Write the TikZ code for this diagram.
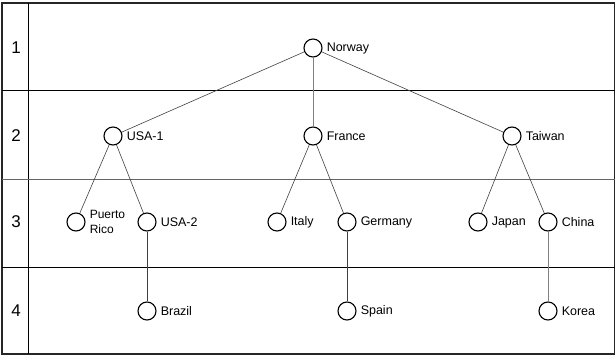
\documentclass[tikz,border=0pt]{standalone}
\usepackage{fontspec}
\setmainfont{Liberation Sans}
\begin{document}
\begin{tikzpicture}[x=1pt,y=-1pt,
  vtx/.style={circle,draw=black,line width=1.1pt,minimum size=18pt,inner sep=0pt},
  lab/.style={anchor=west,inner sep=0pt,font=\fontsize{12.5}{14}\selectfont},
  rownum/.style={font=\fontsize{17}{19}\selectfont},
  edge/.style={draw=black!75,line width=0.6pt},
  rule/.style={draw=black,line width=0.9pt}]
\useasboundingbox (0,0) rectangle (616,356);
% frame and rows
\draw[line width=1.4pt,draw=black!85] (2,3) rectangle (614.5,354);
\draw[rule] (28,3) -- (28,354);
\draw[rule] (2,90.5) -- (614.5,90.5);
\draw[rule,draw=black!60] (2,179) -- (614.5,179);
\draw[rule] (2,267) -- (614.5,267);
\node[rownum] (r1) at (16,48) {1};
\node[rownum] (r2) at (16,136) {2};
\node[rownum] (r3) at (16,222) {3};
\node[rownum] (r4) at (16,311) {4};
% nodes
\node[vtx] (nor) at (313,48) {};
\node[vtx] (usa1) at (113,136) {};
\node[vtx] (fra) at (313,136) {};
\node[vtx] (tai) at (512,136) {};
\node[vtx] (pr) at (76,222) {};
\node[vtx] (usa2) at (147,222) {};
\node[vtx] (ita) at (277,222) {};
\node[vtx] (ger) at (347,222) {};
\node[vtx] (jap) at (478,222) {};
\node[vtx] (chi) at (548,222) {};
\node[vtx] (bra) at (147,311) {};
\node[vtx] (spa) at (347,311) {};
\node[vtx] (kor) at (548,311) {};
% labels
\node[lab] (lnor) at ([xshift=4pt]nor.east) {Norway};
\node[lab] (lusa1) at ([xshift=4pt]usa1.east) {USA-1};
\node[lab] (lfra) at ([xshift=4pt]fra.east) {France};
\node[lab] (ltai) at ([xshift=4pt]tai.east) {Taiwan};
\node[lab,align=left,font=\fontsize{12}{15}\selectfont] (lpr) at ([xshift=4pt]pr.east) {Puerto\\Rico};
\node[lab] (lusa2) at ([xshift=4pt]usa2.east) {USA-2};
\node[lab] (lita) at ([xshift=4pt]ita.east) {Italy};
\node[lab] (lger) at ([xshift=4pt]ger.east) {Germany};
\node[lab] (ljap) at ([xshift=4pt]jap.east) {Japan};
\node[lab] (lchi) at ([xshift=4pt]chi.east) {China};
\node[lab] (lbra) at ([xshift=4pt]bra.east) {Brazil};
\node[lab] (lspa) at ([xshift=4pt]spa.east) {Spain};
\node[lab] (lkor) at ([xshift=4pt]kor.east) {Korea};
% edges
\draw[edge] (nor) -- (usa1);
\draw[edge,draw=black!50] (nor) -- (fra);
\draw[edge] (nor) -- (tai);
\draw[edge] (usa1) -- (pr);
\draw[edge] (usa1) -- (usa2);
\draw[edge] (fra) -- (ita);
\draw[edge] (fra) -- (ger);
\draw[edge] (tai) -- (jap);
\draw[edge] (tai) -- (chi);
\draw[edge] (usa2) -- (bra);
\draw[edge] (ger) -- (spa);
\draw[edge,draw=black!50] (chi) -- (kor);
\end{tikzpicture}
\end{document}
